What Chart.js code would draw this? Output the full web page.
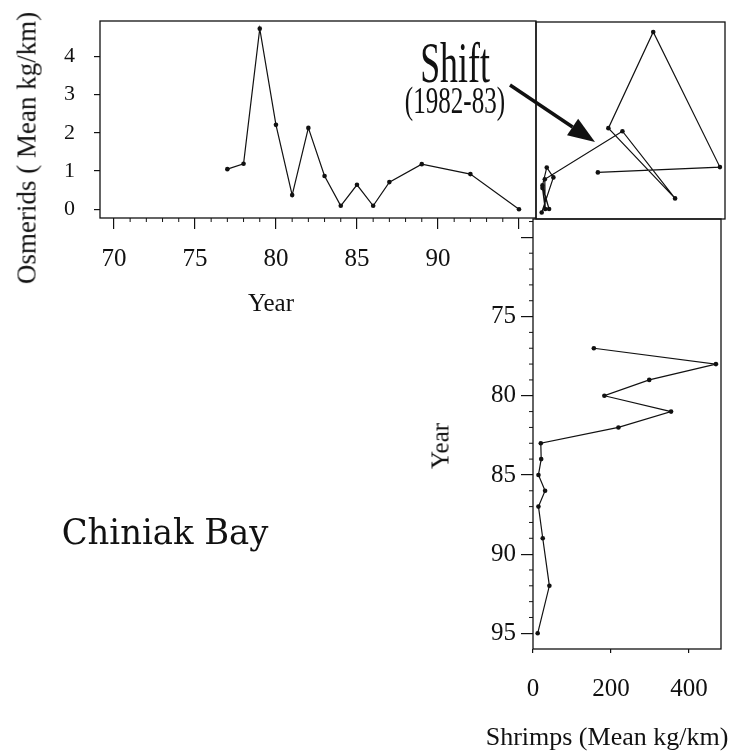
<!DOCTYPE html>
<html lang="en">
<head>
<meta charset="UTF-8" />
<title>Chiniak Bay - Osmerids and Shrimps</title>
<script src="https://cdn.jsdelivr.net/npm/chart.js"></script>
<style>
  body { margin: 0; background: #fff; }
  .page { position: relative; width: 752px; height: 755px; overflow: hidden; }
  .page canvas { position: absolute; left: 0; top: 0; }
  .txt { position: absolute; font-family: "Liberation Serif", serif; color: #111; white-space: nowrap; line-height: 1; }
</style>
</head>
<body>
<div class="page">
  <canvas id="osmChart" width="752" height="755"></canvas>
  <canvas id="shiftChart" width="752" height="755"></canvas>
  <canvas id="shrimpChart" width="752" height="755"></canvas>

  <div class="txt" style="left:27px; top:148px; font-size:27px; transform:translate(-50%,-50%) rotate(-90deg);">Osmerids ( Mean kg/km)</div>
  <div class="txt" style="left:271px; top:302px; font-size:25px; transform:translate(-50%,-50%);">Year</div>
  <div class="txt" style="left:440px; top:446px; font-size:25px; transform:translate(-50%,-50%) rotate(-90deg);">Year</div>
  <div class="txt" style="left:607px; top:737px; font-size:26px; transform:translate(-50%,-50%);">Shrimps (Mean kg/km)</div>
  <div class="txt" style="left:455px; top:63px; font-size:56px; transform:translate(-50%,-50%) scale(0.64,1);">Shift</div>
  <div class="txt" style="left:455px; top:100px; font-size:38px; transform:translate(-50%,-50%) scale(0.66,1);">(1982-83)</div>
  <div class="txt" style="left:165px; top:532px; font-size:36px; font-family:'DejaVu Serif', serif; transform:translate(-50%,-50%) scale(0.94,1);">Chiniak Bay</div>
</div>

<script>
    // survey data
    const years    = [77, 78, 79, 80, 81, 82, 83, 84, 85, 86, 87, 89, 92, 95];
    const osmerids = [1.05, 1.19, 4.73, 2.21, 0.37, 2.13, 0.87, 0.09, 0.64, 0.09, 0.71, 1.18, 0.92, 0.0];
    const shrimps  = [156, 469, 298, 183, 354, 219, 20, 21, 14, 31, 14, 25, 42, 12];

    const yearTicks   = [70, 75, 80, 85, 90, 95];
    const osmTicks    = [0, 1, 2, 3, 4];
    const shrimpTicks = [0, 200, 400];

    const INK = '#111';
    const tickFont = { family: 'Liberation Serif', size: 25 };

    // fixed axis box, no extra label padding
    function fixSize(w, h) {
        return s => {
            if (w) s.width = w;
            if (h) s.height = h;
            s.paddingTop = s.paddingBottom = s.paddingLeft = s.paddingRight = 0;
        };
    }

    // box round the plot area
    const frame = {
        id: 'frame',
        afterDraw(chart) {
            const a = chart.chartArea, ctx = chart.ctx;
            ctx.save();
            ctx.strokeStyle = INK;
            ctx.lineWidth = 1.3;
            ctx.strokeRect(a.left, a.top, a.right - a.left, a.bottom - a.top);
            ctx.restore();
        }
    };

    // small ticks for every year between the labelled ones
    const minorTicks = {
        id: 'minorTicks',
        afterDraw(chart, args, opts) {
            if (!opts.axis) return;
            const s = chart.scales[opts.axis], a = chart.chartArea, ctx = chart.ctx;
            ctx.save();
            ctx.strokeStyle = INK;
            ctx.lineWidth = 1;
            for (let v = opts.from; v <= opts.to; v++) {
                if (v % 5 === 0) continue;
                const p = s.getPixelForValue(v);
                ctx.beginPath();
                if (opts.axis === 'x') {
                    ctx.moveTo(p, a.bottom);
                    ctx.lineTo(p, a.bottom + opts.len);
                } else {
                    ctx.moveTo(a.left, p);
                    ctx.lineTo(a.left - opts.len, p);
                }
                ctx.stroke();
            }
            ctx.restore();
        }
    };

    // the "Shift" arrow
    const shiftArrow = {
        id: 'shiftArrow',
        afterDraw(chart) {
            const ctx = chart.ctx;
            const x0 = 510, y0 = 85, x1 = 595, y1 = 142;
            const ang = Math.atan2(y1 - y0, x1 - x0);
            const hl = 27, hw = 10;
            const bx = x1 - hl * Math.cos(ang), by = y1 - hl * Math.sin(ang);
            ctx.save();
            ctx.strokeStyle = INK;
            ctx.fillStyle = INK;
            ctx.lineWidth = 3.5;
            ctx.beginPath();
            ctx.moveTo(x0, y0);
            ctx.lineTo(bx, by);
            ctx.stroke();
            ctx.beginPath();
            ctx.moveTo(x1, y1);
            ctx.lineTo(bx + hw * Math.sin(ang), by - hw * Math.cos(ang));
            ctx.lineTo(bx - hw * Math.sin(ang), by + hw * Math.cos(ang));
            ctx.closePath();
            ctx.fill();
            ctx.restore();
        }
    };

    const lineStyle = {
        borderColor: INK,
        borderWidth: 1.2,
        pointRadius: 2.3,
        pointBackgroundColor: INK,
        pointBorderWidth: 0,
        tension: 0
    };

    const base = {
        responsive: false,
        animation: false,
        events: [],
        plugins: { legend: { display: false }, tooltip: { enabled: false } }
    };

    // TOP LEFT: osmerids by year
    new Chart(document.getElementById('osmChart'), {
        type: 'line',
        data: { datasets: [{ ...lineStyle, data: years.map((y, i) => ({ x: y, y: osmerids[i] })) }] },
        options: {
            ...base,
            layout: { padding: { left: 40, top: 21, right: 216, bottom: 755 - 218 - 60 } },
            plugins: { ...base.plugins, minorTicks: { axis: 'x', from: 70, to: 95, len: 4 } },
            scales: {
                x: {
                    type: 'linear', min: 69.14, max: 96.05,
                    afterFit: fixSize(0, 60),
                    afterBuildTicks: s => { s.ticks = yearTicks.map(v => ({ value: v })); },
                    ticks: { callback: v => (v === 95 ? '' : v), font: tickFont, color: INK, padding: 15, maxRotation: 0, autoSkip: false },
                    grid: { drawOnChartArea: false, tickLength: 11, color: INK, lineWidth: 1.2 },
                    border: { display: false }
                },
                y: {
                    type: 'linear', min: -0.23, max: 4.93,
                    afterFit: fixSize(60, 0),
                    afterBuildTicks: s => { s.ticks = osmTicks.map(v => ({ value: v })); },
                    ticks: { font: { family: 'Liberation Serif', size: 22 }, color: INK, padding: 19 },
                    grid: { drawOnChartArea: false, tickLength: 6, color: INK, lineWidth: 1.2 },
                    border: { display: false }
                }
            }
        },
        plugins: [frame, minorTicks]
    });

    // TOP RIGHT: osmerids against shrimps
    new Chart(document.getElementById('shiftChart'), {
        type: 'scatter',
        data: { datasets: [{ ...lineStyle, showLine: true, data: years.map((y, i) => ({ x: shrimps[i], y: osmerids[i] })) }] },
        options: {
            ...base,
            layout: { padding: { left: 536, top: 22, right: 752 - 725, bottom: 755 - 219 } },
            scales: {
                x: { type: 'linear', min: -2.6, max: 482, display: false },
                y: { type: 'linear', min: -0.17, max: 4.99, display: false }
            }
        },
        plugins: [frame, shiftArrow]
    });

    // BOTTOM RIGHT: year against shrimps
    new Chart(document.getElementById('shrimpChart'), {
        type: 'scatter',
        data: { datasets: [{ ...lineStyle, showLine: true, data: years.map((y, i) => ({ x: shrimps[i], y: y })) }] },
        options: {
            ...base,
            layout: { padding: { left: 533 - 60, top: 219, right: 752 - 721, bottom: 755 - 649 - 60 } },
            plugins: { ...base.plugins, minorTicks: { axis: 'y', from: 69, to: 95, len: 4 } },
            scales: {
                x: {
                    type: 'linear', min: 0, max: 482,
                    afterFit: fixSize(0, 60),
                    afterBuildTicks: s => { s.ticks = shrimpTicks.map(v => ({ value: v })); },
                    ticks: { font: tickFont, color: INK, padding: 21, maxRotation: 0 },
                    grid: { drawOnChartArea: false, tickLength: 4, color: INK, lineWidth: 1.2 },
                    border: { display: false }
                },
                y: {
                    type: 'linear', reverse: true, min: 68.84, max: 95.99,
                    afterFit: fixSize(60, 0),
                    afterBuildTicks: s => { s.ticks = yearTicks.map(v => ({ value: v })); },
                    ticks: { callback: v => (v === 70 ? '' : v), font: tickFont, color: INK, padding: 5 },
                    grid: { drawOnChartArea: false, tickLength: 12, color: INK, lineWidth: 1.2 },
                    border: { display: false }
                }
            }
        },
        plugins: [frame, minorTicks]
    });
</script>
</body>
</html>
